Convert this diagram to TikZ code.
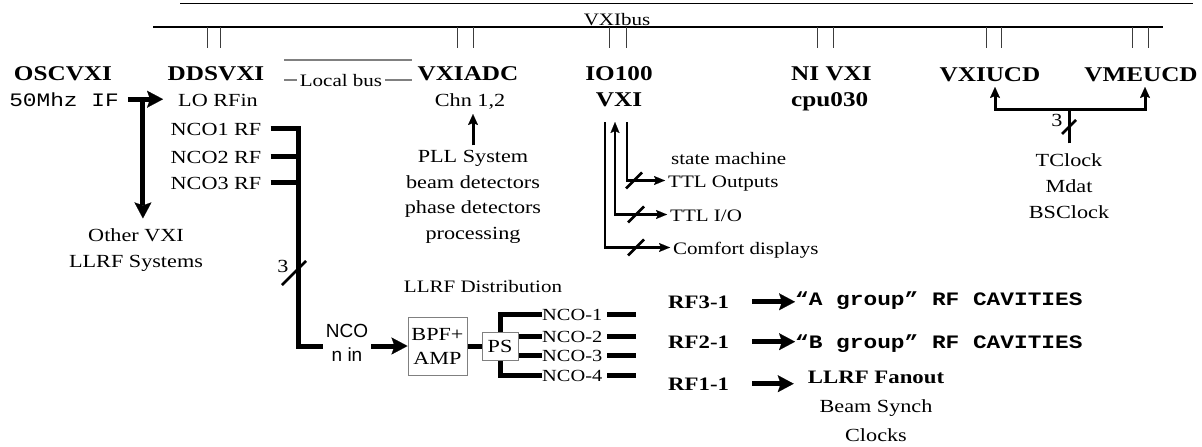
\documentclass[tikz,border=0pt]{standalone}
\usepackage{fontspec}
\setmainfont[FakeStretch=1.2]{Liberation Serif}
\setsansfont{Liberation Sans}
\setmonofont[FakeStretch=1.2]{Liberation Mono}
\usetikzlibrary{arrows.meta, calc, positioning}
\definecolor{BusGray}{HTML}{808080}
\definecolor{SlotGray}{HTML}{3C3C3C}

\newcommand{\bodysize}{\fontsize{18.5}{26}\selectfont}
\newcommand{\smallsize}{\fontsize{17.5}{21}\selectfont}
\newcommand{\headsize}{\fontsize{21}{26}\selectfont\bfseries}

\begin{document}
\begin{tikzpicture}[x=1pt, y=-1pt,
    modname/.style={font=\headsize, inner sep=0pt, anchor=base},
    modtext/.style={font=\bodysize, inner sep=0pt, anchor=base},
    smalltext/.style={font=\smallsize, inner sep=0pt, anchor=base west},
    monotext/.style={font=\fontsize{19}{22}\selectfont\ttfamily, inner sep=0pt, anchor=base},
    cavtext/.style={font=\fontsize{19}{22}\selectfont\ttfamily\bfseries, inner sep=0pt, anchor=base west},
    rfname/.style={font=\fontsize{19}{22}\selectfont\bfseries, inner sep=0pt, anchor=base west},
    sanstext/.style={font=\fontsize{19}{24}\selectfont\sffamily, inner ysep=0pt, inner xsep=2.5pt, align=center},
    boxed/.style={draw=BusGray, line width=1pt, inner sep=0pt, align=center, font=\fontsize{18.5}{24}\selectfont},
    busline/.style={line width=1.2pt},
    slotline/.style={SlotGray, line width=1pt},
    fatline/.style={line width=5pt},
    fatarrow/.style={line width=5pt, -{Stealth[length=16pt, width=17pt, inset=3pt, line width=0.1pt]}},
    wire/.style={line width=3pt},
    wirearrow/.style={line width=2.5pt, -{Stealth[length=11pt, width=9pt, inset=2pt, line width=0.1pt]}, shorten >=3pt},
    pinarrow/.style={line width=3pt, -{Stealth[length=11pt, width=10pt, inset=2pt, line width=0.1pt]}},
    slashmark/.style={line width=2.5pt}]

    \useasboundingbox (0,0) rectangle (1202,447);

    % VXIbus
    \draw[busline] (180,3.5) -- (1193,3.5);
    \draw[busline] (153,27) -- (1163,27);
    \node[modtext, font=\smallsize] (vxibus) at (617,25) {VXIbus};
    \foreach \x in {207,220,457,473,609,626,817,833,986,1001,1132,1148}
        \draw[slotline] (\x,27) -- (\x,48);

    % Local bus
    \draw[BusGray, line width=1.5pt] (284,60) -- (412,60);
    \draw[BusGray, line width=2pt] (284,80) -- (412,80);
    \node[modtext, font=\smallsize, fill=white, inner xsep=3pt] (localbus) at (341,86) {Local bus};

    % Modules
    \node[modname] (osc) at (63,80) {OSCVXI};
    \node[modname] (dds) at (216,80) {DDSVXI};
    \node[modname] (adc) at (468,80) {VXIADC};
    \node[modname, align=center, anchor=center] (io) at (619,87) {IO100\\VXI};
    \node[modname, align=left, anchor=west] (cpu) at (791,89) {NI VXI\\cpu030};
    \node[modname] (vxiucd) at (990,81) {VXIUCD};
    \node[modname] (vmeucd) at (1141,81) {VMEUCD};

    % Oscillator feed
    \node[monotext] (ifout) at (64,106) {50Mhz IF};
    \node[modtext] (lorf) at (218,106) {LO RFin};
    \node[modtext, align=center, anchor=center] (othervxi) at (136,250) {Other VXI\\LLRF Systems};
    \coordinate (ifsplit) at ($(ifout.east)+(24,0)$);
    \draw[fatarrow, shorten <=9pt, shorten >=15pt] (ifout.east) -- (ifout.east -| lorf.west);
    \draw[fatarrow, shorten >=10pt] (ifsplit) -- (ifsplit |- othervxi.north);

    % DDS outputs to distribution
    \foreach \i/\y in {1/135,2/163,3/189}
        \node[modtext] (ddsrf\i) at (216,\y) {NCO\i\ RF};
    \coordinate (busturn) at (298,346);
    \node[boxed, minimum width=59pt, minimum height=58pt] (bpf) at (437.5,346) {BPF+\\AMP};
    \draw[fatarrow, shorten <=9pt] (ddsrf1.east) -| (busturn) -- (bpf.west);
    \foreach \i in {2,3}
        \draw[fatline, shorten <=9pt] (ddsrf\i.east) -- (ddsrf\i.east -| busturn);
    \node[sanstext, fill=white] (ncoin) at (347,343) {NCO\\n in};
    \coordinate (buscut) at (294,273);
    \node[modtext, anchor=center] (buscount) at (283,266) {3};

    % LLRF distribution
    \node[modtext, font=\smallsize] (dist) at (483,292) {LLRF Distribution};
    \node[boxed, minimum width=36pt, minimum height=28pt] (ps) at (500,346) {PS};
    \draw[fatline] (bpf.east) -- (ps.west);
    \foreach \i/\y in {1/320,2/342,3/361,4/381}
        \node[modtext, font=\fontsize{17}{20}\selectfont, anchor=base west] (nco\i) at (542,\y) {NCO-\i};
    \draw[fatline] (nco1.west) -| (ps.north);
    \draw[fatline] (nco4.west) -| (ps.south);
    \foreach \i in {2,3}
        \draw[fatline] (ps.east |- nco\i.west) -- (nco\i.west);
    \foreach \i in {1,...,4}
        \draw[fatline] ([xshift=5pt]nco\i.east) -- ([xshift=34pt]nco\i.east);

    % RF outputs
    \node[rfname] (rf3) at (668,308) {RF3-1};
    \node[rfname] (rf2) at (668,348) {RF2-1};
    \node[rfname] (rf1) at (668,390) {RF1-1};
    \node[cavtext] (agroup) at (795,305) {“A group” RF CAVITIES};
    \node[cavtext] (bgroup) at (795,348) {“B group” RF CAVITIES};
    \node[rfname, anchor=base] (fanout) at (876,383) {LLRF Fanout};
    \node[modtext, align=center, font=\fontsize{18.5}{29}\selectfont, below=16pt of fanout] (synch) {Beam Synch\\Clocks};
    \draw[fatarrow, shorten <=23pt] (rf3.east) -- (rf3.east -| agroup.west);
    \draw[fatarrow, shorten <=23pt] (rf2.east) -- (rf2.east -| bgroup.west);
    \draw[fatarrow, shorten <=23pt, shorten >=14pt] (rf1.east) -- (rf1.east -| fanout.west);

    % IO100 lines
    \coordinate (ioport) at (615,122);
    \node[smalltext] (statem) at (671,164) {state machine};
    \node[smalltext] (ttlout) at (668,187) {TTL Outputs};
    \node[smalltext] (ttlio) at (670,221) {TTL I/O};
    \node[smalltext] (comfort) at (673,254) {Comfort displays};
    \draw[wirearrow] ([xshift=12pt]ioport) |- ([yshift=6.5pt]ttlout.base west);
    \draw[line width=2.5pt, {Stealth[length=11pt, width=9pt, inset=2pt, line width=0.1pt]}-{Stealth[length=11pt, width=9pt, inset=2pt, line width=0.1pt]}, shorten >=3pt]
        (ioport) |- ([yshift=6.5pt]ttlio.base west);
    \draw[wirearrow] ([xshift=-10pt]ioport) |- ([yshift=6.5pt]comfort.base west);
    \coordinate (ttlcut) at ([xshift=-34pt, yshift=6.5pt]ttlout.base west);
    \coordinate (iocut) at ([xshift=-34pt, yshift=6.5pt]ttlio.base west);
    \coordinate (dispcut) at ([xshift=-37pt, yshift=6.5pt]comfort.base west);

    % UCD timing
    \coordinate (ucdjoin) at (1069,109);
    \coordinate (ucdcut) at (1069,127);
    \node[modtext, align=center, anchor=center] (tclock) at (1069,186) {TClock\\Mdat\\BSClock};
    \draw[wire, shorten <=10pt] (tclock.north) -- (ucdjoin);
    \draw[pinarrow] (ucdjoin) -| ([xshift=5pt, yshift=-6pt]vxiucd.base);
    \draw[pinarrow] (ucdjoin) -| ([xshift=4pt, yshift=-6pt]vmeucd.base);
    \node[modtext, anchor=center] (ucdcount) at (1057,120) {3};

    % ADC inputs
    \node[modtext] (chn) at (470,106) {Chn 1,2};
    \node[modtext, align=center, anchor=center, font=\fontsize{18.5}{25.6}\selectfont] (pll) at (473,197)
        {PLL System\\beam detectors\\phase detectors\\processing};
    \draw[pinarrow, shorten <=5pt, shorten >=5pt] (pll.north) -- (pll.north |- chn.south);

    % Bus width marks
    \foreach \p/\s in {buscut/12, ucdcut/7, ttlcut/8, iocut/8, dispcut/8}
        \draw[slashmark] ($(\p)+(-\s,\s)$) -- ($(\p)+(\s,-\s)$);
\end{tikzpicture}
\end{document}
